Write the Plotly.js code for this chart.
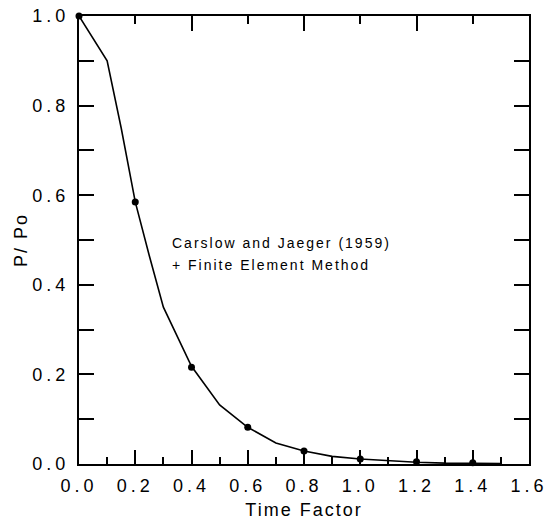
<!DOCTYPE html>
<html>
<head>
<meta charset="utf-8">
<script src="https://cdn.plot.ly/plotly-3.0.1.min.js"></script>
<style>
  html, body { margin: 0; padding: 0; background: #fff; }
  #chart { width: 549px; height: 520px; }
  .xtick text, .ytick text { letter-spacing: 4px; }
  .xtitle, .ytitle { letter-spacing: 2px; }
  .annotation-text { letter-spacing: 2px; }
</style>
</head>
<body>
<div id="chart"></div>
<script>
// Analytical curve (Carslow and Jaeger, 1959)
const curveT = [0.0, 0.1, 0.15, 0.2, 0.25, 0.3, 0.4, 0.5, 0.6, 0.7, 0.8, 0.9, 1.0, 1.1, 1.2, 1.3, 1.4, 1.5];
const curveP = [1.0, 0.9, 0.75, 0.585, 0.465, 0.35, 0.218, 0.132, 0.082, 0.047, 0.029, 0.017, 0.011, 0.007, 0.004, 0.002, 0.0015, 0.001];

// Finite element method results
const femT = [0.0, 0.2, 0.4, 0.6, 0.8, 1.0, 1.2, 1.4];
const femP = [1.0, 0.585, 0.216, 0.082, 0.029, 0.011, 0.005, 0.003];

const xTitle = 'Time Factor';
const yTitle = 'P/ Po';
const note1 = 'Carslow and Jaeger (1959)';
const note2 = '+ Finite Element Method';

const font = 'Liberation Sans, Arial, sans-serif';

const traces = [
  {
    x: curveT, y: curveP, type: 'scatter', mode: 'lines',
    xaxis: 'x', yaxis: 'y',
    line: { color: '#000', width: 1.6 },
    cliponaxis: false, hoverinfo: 'skip', showlegend: false
  },
  {
    // drawn against the top axis, which has the same range as the bottom one
    x: femT, y: femP, type: 'scatter', mode: 'markers',
    xaxis: 'x2', yaxis: 'y',
    marker: { color: '#000', size: 7, symbol: 'circle' },
    cliponaxis: false, showlegend: false
  }
];

const layout = {
  width: 549, height: 520,
  margin: { l: 79, r: 20, t: 16, b: 56, pad: 0 },
  paper_bgcolor: '#fff', plot_bgcolor: '#fff',
  showlegend: false,
  font: { family: font, color: '#000', size: 18 },
  xaxis: {
    range: [0, 1.6], tick0: 0, dtick: 0.2, tickformat: '.1f',
    showgrid: false, zeroline: false,
    showline: true, linecolor: '#000', linewidth: 2, mirror: false,
    ticks: 'inside', ticklen: 14, tickwidth: 2, tickcolor: '#000',
    minor: { dtick: 0.1, ticks: 'inside', ticklen: 7, tickwidth: 2, tickcolor: '#000', showgrid: false },
    tickfont: { family: font, size: 18, color: '#000' },
    ticklabelstandoff: 4,
    title: { text: xTitle, font: { family: font, size: 18, color: '#000' }, standoff: 10 },
    fixedrange: true
  },
  xaxis2: {
    overlaying: 'x', side: 'top', anchor: 'y',
    range: [0, 1.6], tick0: 0, dtick: 0.4,
    showgrid: false, zeroline: false, showticklabels: false,
    showline: true, linecolor: '#000', linewidth: 2,
    ticks: 'inside', ticklen: 15, tickwidth: 2, tickcolor: '#000',
    minor: { dtick: 0.2, ticks: 'inside', ticklen: 8, tickwidth: 2, tickcolor: '#000', showgrid: false },
    fixedrange: true
  },
  yaxis: {
    range: [0, 1.0], tick0: 0, dtick: 0.2, tickformat: '.1f',
    showgrid: false, zeroline: false,
    showline: true, linecolor: '#000', linewidth: 2, mirror: 'allticks',
    ticks: 'inside', ticklen: 15, tickwidth: 2, tickcolor: '#000',
    minor: { dtick: 0.1, ticks: 'inside', ticklen: 8, tickwidth: 2, tickcolor: '#000', showgrid: false },
    tickfont: { family: font, size: 18, color: '#000' },
    ticklabelstandoff: 4,
    title: { text: yTitle, font: { family: font, size: 18, color: '#000' }, standoff: 0 },
    fixedrange: true
  },
  annotations: [
    { x: 0.322, y: 0.493, xref: 'x', yref: 'y', text: note1, showarrow: false,
      xanchor: 'left', yanchor: 'middle', font: { family: font, size: 14, color: '#000' } },
    { x: 0.322, y: 0.444, xref: 'x', yref: 'y', text: note2, showarrow: false,
      xanchor: 'left', yanchor: 'middle', font: { family: font, size: 14, color: '#000' } }
  ]
};

Plotly.newPlot('chart', traces, layout, { staticPlot: true, displayModeBar: false });
</script>
</body>
</html>
